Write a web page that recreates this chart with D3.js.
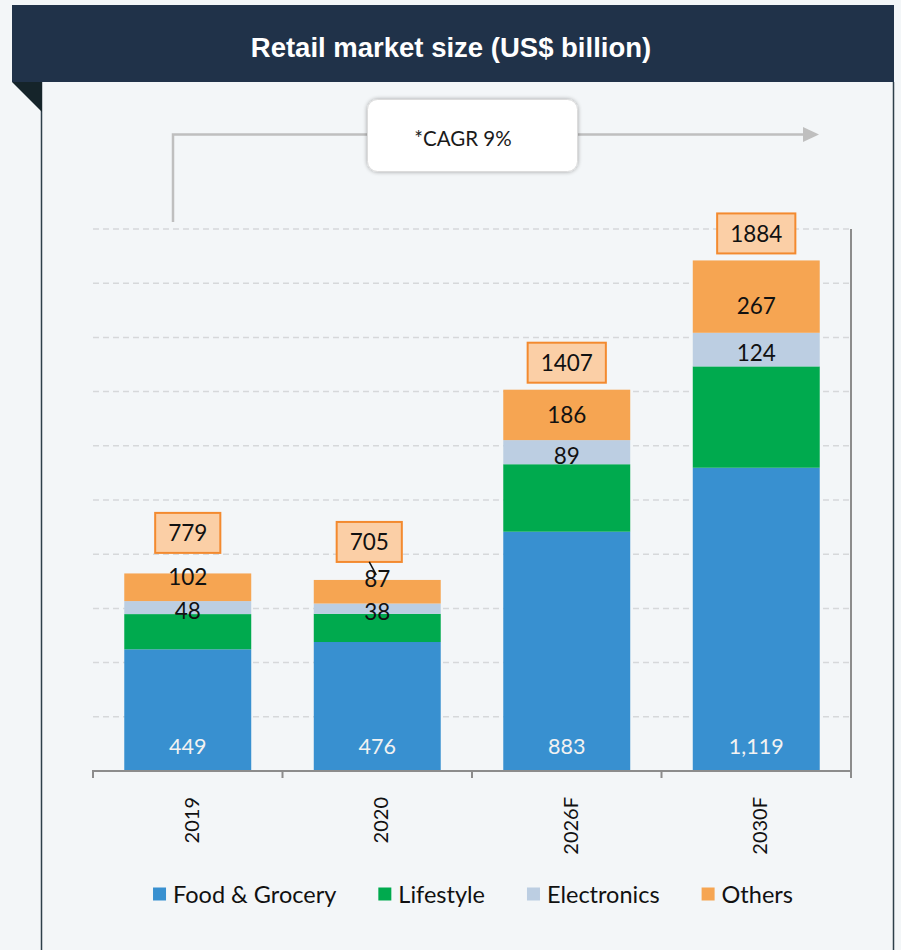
<!DOCTYPE html>
<html>
<head>
<meta charset="utf-8">
<script src="https://cdn.jsdelivr.net/npm/d3@7"></script>
<style>
	body{margin:0;background:#f3f6f8;}
	svg{display:block;}
</style>
</head>
<body>
<div id="chart"></div>
<script>
// data
const years = ["2019","2020","2026F","2030F"];
const foodGrocery = [449, 476, 883, 1119];
const lifestyle = [130, 104, 249, 374];
const electronics = [48, 38, 89, 124];
const others = [102, 87, 186, 267];
const totals = [779, 705, 1407, 1884];
const seriesNames = ["Food & Grocery","Lifestyle","Electronics","Others"];
const seriesColors = ["#3890d0","#00aa4e","#bccee2","#f6a552"];
const title = "Retail market size (US$ billion)";
const cagrText = "*CAGR 9%";

const W = 901, H = 950;
const font = "Lato, 'Open Sans', sans-serif";

const rows = years.map((y,i)=>({year:y, "Food & Grocery":foodGrocery[i], "Lifestyle":lifestyle[i],
	"Electronics":electronics[i], "Others":others[i], total:totals[i]}));
const stack = d3.stack().keys(seriesNames)(rows);

const X = d3.scaleBand().domain(years).range([93,851]).paddingInner(0.33).paddingOuter(0.165);
const Y = d3.scaleLinear().domain([0,2000]).range([771,229]);
const C = d3.scaleOrdinal().domain(seriesNames).range(seriesColors);

const svg = d3.select("#chart").append("svg")
	.attr("width",W).attr("height",H)
	.attr("viewBox","0 0 "+W+" "+H);

svg.append("rect").attr("width",W).attr("height",H).style("fill","#f3f6f8");

// frame + title bar
svg.append("line").attr("x1",41.5).attr("x2",41.5).attr("y1",82).attr("y2",H)
	.style("stroke","#2e3f4a").style("stroke-width",1.5);
svg.append("line").attr("x1",893.5).attr("x2",893.5).attr("y1",82).attr("y2",H)
	.style("stroke","#2e3f4a").style("stroke-width",1.5);
svg.append("rect").attr("x",12).attr("y",5).attr("width",882).attr("height",77)
	.style("fill","#203249");
svg.append("path").attr("d","M12,82L42,82L42,112Z").style("fill","#15242a");
svg.append("text").attr("x",451).attr("y",47).text(title)
	.style("font-family","'Liberation Sans', Arial, sans-serif")
	.style("font-weight","bold").style("font-size","27.5px")
	.style("fill","white").style("text-anchor","middle")
	.attr("dominant-baseline","central");

// gridlines
svg.append("g").selectAll("line").data(Y.ticks(10).filter(d=>d>0)).enter().append("line")
	.attr("x1",93).attr("x2",851)
	.attr("y1",d=>Y(d)).attr("y2",d=>Y(d))
	.style("stroke","#d6d8da").style("stroke-width",1.5).style("stroke-dasharray","6,4");

// CAGR annotation
const defs = svg.append("defs");
const sh = defs.append("filter").attr("id","shadow").attr("x","-20%").attr("y","-30%").attr("width","140%").attr("height","160%");
sh.append("feGaussianBlur").attr("in","SourceAlpha").attr("stdDeviation",2.2);
sh.append("feComponentTransfer").append("feFuncA").attr("type","linear").attr("slope",0.35);
const mg = sh.append("feMerge");
mg.append("feMergeNode");
mg.append("feMergeNode").attr("in","SourceGraphic");

svg.append("path").attr("d","M173,222V134.5H370M576,134.5H804")
	.style("fill","none").style("stroke","#bfbfbf").style("stroke-width",2.5);
svg.append("path").attr("d","M803,127L819,134.5L803,142Z").style("fill","#bfbfbf");
svg.append("rect").attr("x",367.5).attr("y",99.5).attr("width",210).attr("height",72).attr("rx",10)
	.style("fill","white").style("stroke","#dcdcdc").style("stroke-width",1)
	.attr("filter","url(#shadow)");
svg.append("text").attr("x",463).attr("y",138).text(cagrText)
	.style("font-family",font).style("font-size","20.5px").style("fill","#1a1a1a")
	.style("text-anchor","middle").attr("dominant-baseline","central");

// bars
const layers = svg.append("g").selectAll("g").data(stack).enter().append("g")
	.style("fill",d=>C(d.key));
layers.selectAll("rect").data(d=>d).enter().append("rect")
	.attr("x",d=>X(d.data.year))
	.attr("y",d=>Y(d[1]))
	.attr("width",X.bandwidth())
	.attr("height",d=>Y(d[0])-Y(d[1]));

// axis lines
svg.append("line").attr("x1",851).attr("x2",851).attr("y1",229).attr("y2",771)
	.style("stroke","#8c8c8c").style("stroke-width",2);
svg.append("line").attr("x1",92).attr("x2",852).attr("y1",771).attr("y2",771)
	.style("stroke","#8c8c8c").style("stroke-width",2);
svg.append("g").selectAll("line").data(d3.range(years.length+1)).enter().append("line")
	.attr("x1",i=>X.range()[0]+i*X.step()).attr("x2",i=>X.range()[0]+i*X.step())
	.attr("y1",771).attr("y2",778)
	.style("stroke","#8c8c8c").style("stroke-width",2);

// x labels
svg.append("g").selectAll("text").data(years).enter().append("text")
	.attr("transform",d=>"translate("+(X(d)+X.bandwidth()/2+3)+",797) rotate(-90)")
	.text(d=>d)
	.style("font-family",font).style("font-size","20px").style("fill","#111")
	.style("text-anchor","end").attr("dominant-baseline","central");

// segment labels
const fmt = d3.format(",");
const othersShift = [-11,-13,0,9];
svg.append("g").selectAll("text").data(stack[0]).enter().append("text")
	.attr("x",d=>X(d.data.year)+X.bandwidth()/2)
	.attr("y",d=>Y(d[0])-25)
	.text(d=>fmt(d[1]-d[0]))
	.style("font-family",font).style("font-size","21.5px").style("fill","#f2f2f2")
	.style("text-anchor","middle").attr("dominant-baseline","central");
svg.append("g").selectAll("text").data(stack[2]).enter().append("text")
	.attr("x",d=>X(d.data.year)+X.bandwidth()/2)
	.attr("y",d=>(Y(d[0])+Y(d[1]))/2+3)
	.text(d=>fmt(d[1]-d[0]))
	.style("font-family",font).style("font-size","22.5px").style("fill","#111")
	.style("text-anchor","middle").attr("dominant-baseline","central");
svg.append("g").selectAll("text").data(stack[3]).enter().append("text")
	.attr("x",d=>X(d.data.year)+X.bandwidth()/2)
	.attr("y",(d,i)=>(Y(d[0])+Y(d[1]))/2+othersShift[i])
	.text(d=>fmt(d[1]-d[0]))
	.style("font-family",font).style("font-size","22.5px").style("fill","#111")
	.style("text-anchor","middle").attr("dominant-baseline","central");

// total boxes
const nudge = {"2020":{dx:-8,dy:-11}};
const tot = svg.append("g").selectAll("g").data(rows).enter().append("g")
	.attr("transform",d=>{
		const n = nudge[d.year]||{dx:0,dy:0};
		return "translate("+(X(d.year)+X.bandwidth()/2+n.dx)+","+(Y(d.total)-27+n.dy)+")";
	});
tot.each(function(d){
	const g = d3.select(this);
	const t = g.append("text").text(d.total)
		.style("font-family",font).style("font-size","22.5px").style("fill","#111")
		.style("text-anchor","middle").attr("dominant-baseline","central");
	const w = t.node().getComputedTextLength()+26;
	g.insert("rect","text").attr("x",-w/2).attr("y",-20).attr("width",w).attr("height",40)
		.style("fill","#fbcfa6").style("stroke","#f38a2f").style("stroke-width",2);
	if (nudge[d.year]){
		g.append("line").attr("x1",0).attr("y1",20).attr("x2",7).attr("y2",33)
			.style("stroke","#111").style("stroke-width",1.5);
	}
});

// legend
const leg = svg.append("g").attr("transform","translate(0,894)");
let lx = 0;
const items = leg.selectAll("g").data(seriesNames).enter().append("g");
items.append("rect").attr("x",0).attr("y",-6.5).attr("width",13).attr("height",13)
	.style("fill",d=>C(d));
items.append("text").attr("x",20).attr("y",0).text(d=>d)
	.style("font-family",font).style("font-size","23.5px").style("fill","#111")
	.attr("dominant-baseline","central");
items.each(function(){
	d3.select(this).attr("transform","translate("+lx+",0)");
	lx += this.getBBox().width+42;
});
lx -= 42;
leg.attr("transform","translate("+(473-lx/2)+",894)");
</script>
</body>
</html>
